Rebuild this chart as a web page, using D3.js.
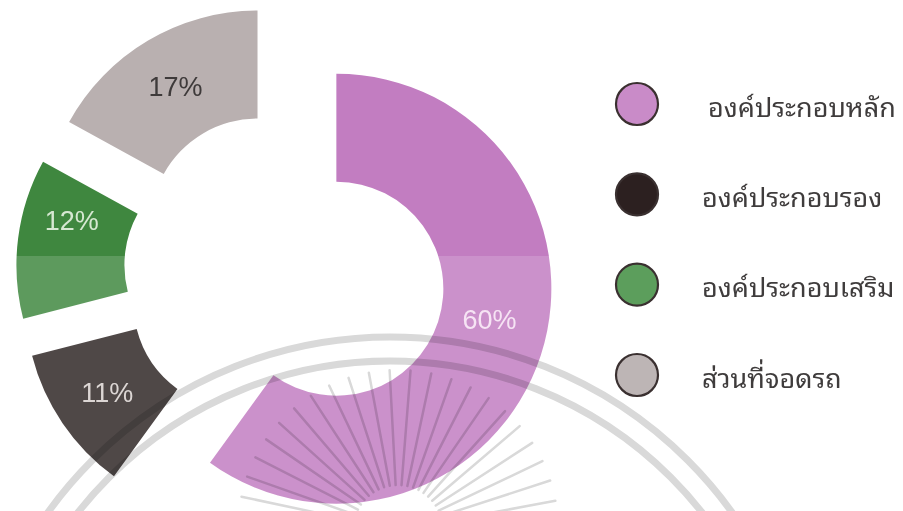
<!DOCTYPE html>
<html>
<head>
<meta charset="utf-8">
<script src="https://cdn.jsdelivr.net/npm/d3@7"></script>
<style>
    html, body { margin: 0; padding: 0; background: #fff; }
    svg { display: block; }
</style>
</head>
<body>
<svg id="chart" width="903" height="511"></svg>
<script>
// init data
const categories = ["องค์ประกอบหลัก", "องค์ประกอบรอง", "องค์ประกอบเสริม", "ส่วนที่จอดรถ"];
const values = [60, 11, 12, 17];
const valueLabels = ["60%", "11%", "12%", "17%"];

// colours (slice / legend dot / label)
const sliceColors = ["#c27dc1", "#2e2524", "#3f873f", "#b9b0b0"];
const dotColors = ["#c98bc8", "#2c2020", "#5c9e5c", "#bdb5b5"];
const labelColors = ["#f6e4f4", "#dcd6d4", "#d6e8d2", "#3e3a3a"];

const svg = d3.select('#chart');
const width = 903, height = 511;

// donut
{
    const cx = 285, cy = 272;
    const inner = 107, outer = 215;
    const explode = 54;
    const labelDy = [-18, 0, -24, 0];

    const pie = d3.pie().sort(null).value(d => d)(values);
    const arc = d3.arc().innerRadius(inner).outerRadius(outer);
    const labelArc = d3.arc().innerRadius((inner + outer) / 2).outerRadius((inner + outer) / 2);

    const donut = svg.append('g').attr('transform', `translate(${cx},${cy})`);

    const slice = donut.selectAll('g.slice')
        .data(pie)
        .join('g')
        .attr('class', 'slice')
        .attr('transform', d => {
            const mid = (d.startAngle + d.endAngle) / 2;
            return `translate(${Math.sin(mid) * explode},${-Math.cos(mid) * explode})`;
        });

    slice.append('path')
        .attr('d', arc)
        .attr('fill', (d, i) => sliceColors[i]);

    // scan band: lower half of the page is a little paler
    svg.append('rect')
        .attr('x', 0).attr('y', 256)
        .attr('width', 570).attr('height', height - 256)
        .attr('fill', '#fff')
        .attr('opacity', 0.16);

    const labels = svg.append('g').attr('transform', `translate(${cx},${cy})`);
    labels.selectAll('text')
        .data(pie)
        .join('text')
        .attr('transform', d => {
            const mid = (d.startAngle + d.endAngle) / 2;
            const [x, y] = labelArc.centroid(d);
            return `translate(${x + Math.sin(mid) * explode},${y - Math.cos(mid) * explode + labelDy[d.index]})`;
        })
        .attr('text-anchor', 'middle')
        .attr('dominant-baseline', 'central')
        .attr('font-family', 'Liberation Sans, Arial, sans-serif')
        .attr('font-size', 27)
        .attr('fill', (d, i) => labelColors[i])
        .text((d, i) => valueLabels[i]);
}

// legend
{
    const y = d3.scalePoint().domain(categories).range([104, 375]);
    const item = svg.append('g').selectAll('g')
        .data(categories)
        .join('g')
        .attr('transform', d => `translate(637,${y(d)})`);

    item.append('circle')
        .attr('r', 21)
        .attr('fill', (d, i) => dotColors[i])
        .attr('stroke', '#3a3030')
        .attr('stroke-width', 2.2);

    item.append('text')
        .attr('x', (d, i) => i === 0 ? 71 : 65)
        .attr('dominant-baseline', 'central')
        .attr('font-family', '"Noto Sans Thai Looped", Loma, Garuda, Norasi, "Noto Sans Thai", sans-serif')
        .attr('font-size', 27)
        .attr('fill', '#3f3c3c')
        .text(d => d);
}

// watermark (faint seal printed over the page)
{
    const wm = svg.append('g')
        .attr('fill', 'none')
        .attr('stroke', '#d9d9d9')
        .style('mix-blend-mode', 'multiply');
    const wx = 390, wy = 758;
    [421, 397].forEach(r => {
        wm.append('circle').attr('cx', wx).attr('cy', wy).attr('r', r).attr('stroke-width', 7);
    });
    const sun = {x: 398, y: 530};
    const rays = d3.range(-168, -10, 7.5);
    wm.selectAll('line')
        .data(rays)
        .join('line')
        .attr('x1', a => sun.x + Math.cos(a * Math.PI / 180) * 45)
        .attr('y1', a => sun.y + Math.sin(a * Math.PI / 180) * 45)
        .attr('x2', a => sun.x + Math.cos(a * Math.PI / 180) * 160)
        .attr('y2', a => sun.y + Math.sin(a * Math.PI / 180) * 160)
        .attr('stroke-width', 2.5)
        .attr('stroke-linecap', 'round');
}
</script>
</body>
</html>
